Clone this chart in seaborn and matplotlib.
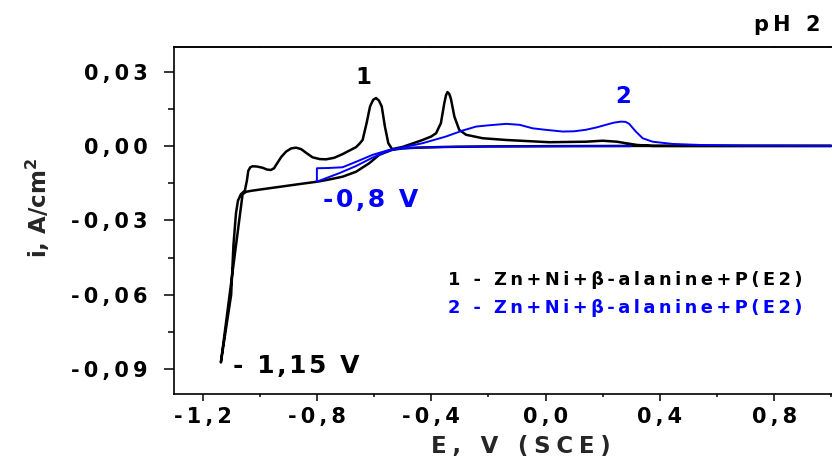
import pandas as pd
import matplotlib
matplotlib.use("Agg")
import matplotlib.pyplot as plt
from matplotlib.ticker import MultipleLocator, FuncFormatter
import seaborn as sns

# curve 1 (black): cathodic sweep from the right, then anodic sweep back
E1 = [1.00, 0.60, 0.30, 0.00, -0.20, -0.35, -0.45, -0.50, -0.537, -0.56, -0.582,
      -0.617, -0.663, -0.71, -0.76, -0.798, -0.85, -0.90, -0.95, -1.00, -1.03,
      -1.048, -1.06, -1.136,
      -1.100, -1.092, -1.083, -1.076, -1.066, -1.052, -1.045, -1.040, -1.033,
      -1.025, -1.01, -0.99, -0.975, -0.961, -0.95, -0.943, -0.925, -0.908,
      -0.89, -0.873, -0.855, -0.835, -0.815, -0.79, -0.768, -0.74, -0.71,
      -0.685, -0.663, -0.65, -0.64, -0.626, -0.614, -0.603, -0.593, -0.583,
      -0.573, -0.562, -0.55, -0.537, -0.50, -0.43, -0.40, -0.383, -0.366,
      -0.354, -0.348, -0.343, -0.337, -0.331, -0.319, -0.302, -0.278, -0.22,
      -0.138, 0.013, 0.141, 0.20, 0.25, 0.281, 0.32, 0.375, 0.50, 1.00]
I1 = [0.0, 0.0, 0.0, -0.0001, -0.0002, -0.0004, -0.0007, -0.0010, -0.0016,
      -0.0026, -0.0036, -0.0070, -0.0104, -0.0124, -0.0136, -0.0144, -0.0152,
      -0.0160, -0.0168, -0.0176, -0.0181, -0.0185, -0.0195, -0.0873,
      -0.0600, -0.0400, -0.0270, -0.0220, -0.0195, -0.0180, -0.0140, -0.0100,
      -0.0086, -0.0082, -0.0083, -0.0088, -0.0095, -0.0097, -0.0090, -0.0077,
      -0.0045, -0.0023, -0.0010, -0.0007, -0.0013, -0.0030, -0.0046, -0.0053,
      -0.0054, -0.0048, -0.0033, -0.0018, -0.0005, 0.0010, 0.0024, 0.0092,
      0.0159, 0.0186, 0.0193, 0.0183, 0.0159, 0.0078, 0.0011, -0.0013,
      -0.0004, 0.0024, 0.0038, 0.0051, 0.0092, 0.0173, 0.0205, 0.0217, 0.0210,
      0.0190, 0.0119, 0.0065, 0.0045, 0.0031, 0.0024, 0.0015, 0.0017, 0.0021,
      0.0017, 0.0011, 0.0004, 0.0, 0.0, 0.0]

# curve 2 (blue): starts at 0.3 V, down to -0.8 V, then anodic sweep
E2 = [0.30, 0.10, -0.10, -0.30, -0.45, -0.50, -0.547, -0.605, -0.663, -0.71,
      -0.76, -0.80, -0.80, -0.722, -0.663, -0.605, -0.547, -0.512, -0.43,
      -0.348, -0.29, -0.243, -0.20, -0.138, -0.09, -0.045, 0.00, 0.06, 0.10,
      0.141, 0.18, 0.211, 0.24, 0.264, 0.28, 0.293, 0.316, 0.34, 0.375, 0.445,
      0.538, 0.70, 1.00]
I2 = [-0.0001, -0.0001, -0.0002, -0.0003, -0.0007, -0.0010, -0.0016, -0.0036,
      -0.0064, -0.0086, -0.0089, -0.0090, -0.0144, -0.0110, -0.0081, -0.0047,
      -0.0019, -0.0009, 0.0011, 0.0038, 0.0062, 0.0078, 0.0083, 0.0089, 0.0085,
      0.0071, 0.0065, 0.0058, 0.0059, 0.0065, 0.0075, 0.0085, 0.0094, 0.0098,
      0.0097, 0.0089, 0.0058, 0.0031, 0.0017, 0.0008, 0.0004, 0.0001, 0.0]

legend_1 = "1 - Zn+Ni+β-alanine+P(E2)"
legend_2 = "2 - Zn+Ni+β-alanine+P(E2)"

sns.set_theme(style="ticks")
plt.rcParams['font.family'] = ['DejaVu Sans']
plt.rcParams['font.weight'] = 'bold'
plt.rcParams['mathtext.fontset'] = 'dejavusans'


def spaced(s, gap='\u2009'):
    # Origin-style wide letter spacing
    return gap.join(s)


df1 = pd.DataFrame({'E': E1, 'i': I1})
df2 = pd.DataFrame({'E': E2, 'i': I2})

fig = plt.figure(figsize=(8.32, 4.66), dpi=100)
# axes run past the right edge of the picture, like the cropped original
ax = fig.add_axes([174 / 832, 72 / 466, 743 / 832, 347.3 / 466])

sns.lineplot(data=df1, x='E', y='i', sort=False, estimator=None,
             color='black', linewidth=1.8, ax=ax)
sns.lineplot(data=df2, x='E', y='i', sort=False, estimator=None,
             color='#0000FF', linewidth=1.4, ax=ax)

ax.set_xlim(-1.3, 1.3)
ax.set_ylim(-0.10, 0.04)

ax.xaxis.set_major_locator(MultipleLocator(0.4))
ax.xaxis.set_minor_locator(MultipleLocator(0.2))
ax.yaxis.set_major_locator(MultipleLocator(0.03))
ax.yaxis.set_minor_locator(MultipleLocator(0.015))


def fmt_x(v, pos):
    if v > 1.0:
        return ''
    if abs(v) < 1e-9:
        v = 0.0
    return spaced(f"{v:.1f}".replace('.', ','))


def fmt_y(v, pos):
    if abs(v) < 1e-9:
        v = 0.0
    return spaced(f"{v:.2f}".replace('.', ','))


ax.xaxis.set_major_formatter(FuncFormatter(fmt_x))
ax.yaxis.set_major_formatter(FuncFormatter(fmt_y))

for side in ['left', 'bottom', 'top', 'right']:
    ax.spines[side].set_visible(True)
    ax.spines[side].set_linewidth(1.2)
    ax.spines[side].set_color('black')

ax.tick_params(axis='y', which='major', direction='out', length=7, width=1.1,
               pad=12, labelsize=15, color='black', labelcolor='black')
ax.tick_params(axis='y', which='minor', direction='out', length=4, width=1.1,
               color='black')
ax.tick_params(axis='x', which='major', direction='out', length=5, width=1.1,
               pad=4, labelsize=15, color='black', labelcolor='black')
ax.tick_params(axis='x', which='minor', direction='out', length=2.5, width=1.1,
               color='black')

# tiny marks on the top spine
top = ax.secondary_xaxis('top')
top.xaxis.set_major_locator(MultipleLocator(0.2))
top.tick_params(axis='x', which='both', direction='inout', length=2, width=1.1,
                labeltop=False)

ax.set_xlabel(spaced("E, V (SCE)", '\u2005'), fontsize=16.5, fontweight='bold',
              va='center')
ax.xaxis.set_label_coords((521 - 174) / 743, (394 - 447) / 347.3)
ax.set_ylabel("i, A/cm$^{\\mathbf{2}}$", fontsize=16.5, fontweight='bold',
              va='center')
ax.yaxis.set_label_coords((38 - 174) / 743, (394 - 208) / 347.3)

ax.text(-0.639, 0.0275, "1", fontsize=16.5, fontweight='bold', color='black',
        ha='center', va='center')
ax.text(0.271, 0.0199, "2", fontsize=16.5, fontweight='bold', color='#0000FF',
        ha='center', va='center')
ax.text(-0.778, -0.0218, spaced("-0,8 V", '\u200a'), fontsize=18,
        fontweight='bold', color='#0000FF', ha='left', va='center')
ax.text(-1.093, -0.0886, spaced("- 1,15 V", '\u200a'), fontsize=18,
        fontweight='bold', color='black', ha='left', va='center')
ax.text(-0.341, -0.0542, spaced(legend_1), fontsize=12.8,
        fontweight='bold', color='black', ha='left', va='center')
ax.text(-0.341, -0.0655, spaced(legend_2), fontsize=12.8,
        fontweight='bold', color='#0000FF', ha='left', va='center')

fig.text(820 / 832, 1 - 25 / 466, spaced("pH 2"), fontsize=15,
         fontweight='bold', color='black', ha='right', va='center')

fig.savefig("out.png", dpi=100)
